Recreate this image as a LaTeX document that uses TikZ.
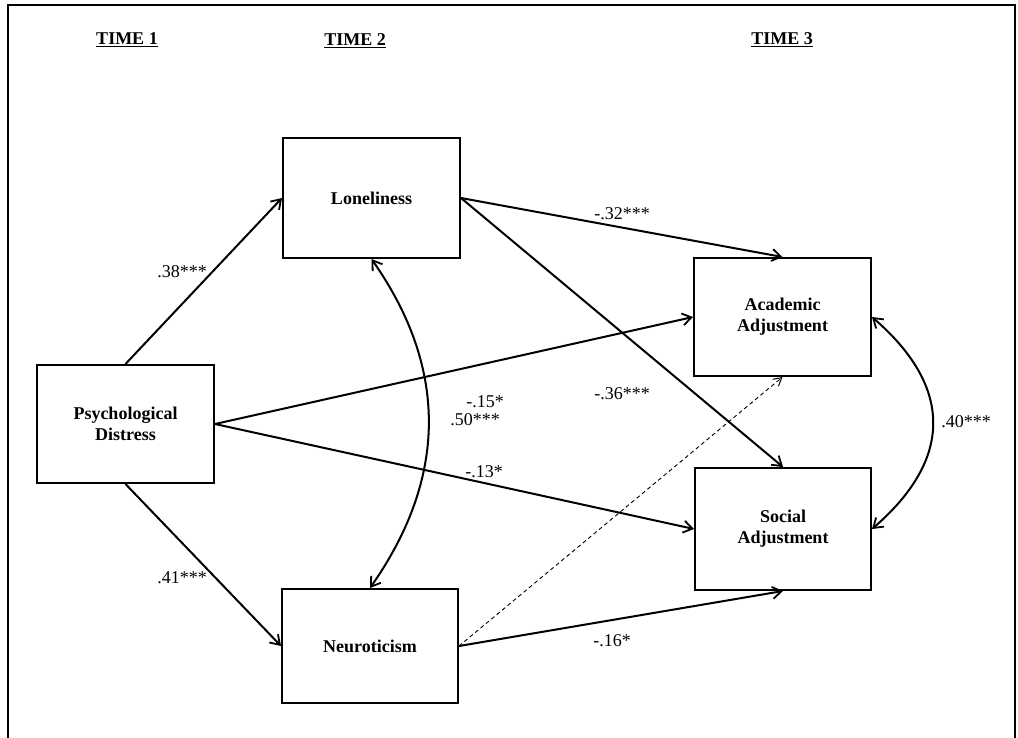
\documentclass[tikz,border=0pt]{standalone}
\usepackage{fontspec}
\setmainfont{Liberation Serif}
\usetikzlibrary{arrows.meta}
\begin{document}
\begin{tikzpicture}[x=1pt,y=-1pt,
  box/.style={draw,line width=2pt,inner sep=0pt,font=\fontsize{18}{21}\selectfont\bfseries,align=center},
  path/.style={line width=2pt,-{Straight Barb[length=9pt,width=12pt,line width=1.8pt]}},
  dpath/.style={line width=0.9pt,dashed,dash pattern=on 4pt off 3pt,-{Straight Barb[length=8pt,width=9pt,line width=1pt]}},
  cov/.style={line width=2pt,{Straight Barb[length=9pt,width=12pt,line width=1.8pt]}-{Straight Barb[length=9pt,width=12pt,line width=1.8pt]}},
  lab/.style={font=\fontsize{18}{21}\selectfont},
  hdr/.style={font=\fontsize{18}{21}\selectfont\bfseries}]
\useasboundingbox (0,0) rectangle (1018,737);
\draw[line width=1.8pt] (8,740) -- (8,5) -- (1015,5) -- (1015,740);
% headers
\node[hdr] (t1) at (127,40) {\underline{TIME 1}};
\node[hdr] (t2) at (355,41) {\underline{TIME 2}};
\node[hdr] (t3) at (782,40) {\underline{TIME 3}};
% boxes
\node[box,minimum width=177pt,minimum height=118pt] (pd) at (125.5,424) {Psychological\\Distress};
\node[box,minimum width=177pt,minimum height=120pt] (lon) at (371.5,198) {Loneliness};
\node[box,minimum width=176pt,minimum height=114pt] (neu) at (370,646) {Neuroticism};
\node[box,minimum width=177pt,minimum height=118pt] (aca) at (782.5,317) {Academic\\Adjustment};
\node[box,minimum width=176pt,minimum height=122pt] (soc) at (783,529) {Social\\Adjustment};
% paths
\draw[path] (pd.north) -- (lon.west);
\draw[path] (pd.south) -- (neu.west);
\draw[path] (pd.east) -- (aca.west);
\draw[path] (pd.east) -- (soc.west);
\draw[path] (lon.east) -- (aca.north);
\draw[path] (lon.east) -- (soc.north);
\draw[path] (neu.east) -- (soc.south);
\draw[dpath] (neu.east) -- (aca.south);
\draw[cov] (lon.south) .. controls +(77,110) and +(77,-110) .. (neu.north);
\draw[cov] (aca.east) .. controls +(81,70) and +(81,-70) .. (soc.east);
% labels
\node[lab] (l1) at (182,272) {.38***};
\node[lab] (l2) at (182,578) {.41***};
\node[lab] (l3) at (485,402) {-.15*};
\node[lab] (l4) at (484,472) {-.13*};
\node[lab] (l5) at (622,214) {-.32***};
\node[lab] (l6) at (622,394) {-.36***};
\node[lab] (l7) at (612,641) {-.16*};
\node[lab] (l8) at (475,420) {.50***};
\node[lab] (l9) at (966,422) {.40***};
\end{tikzpicture}
\end{document}
